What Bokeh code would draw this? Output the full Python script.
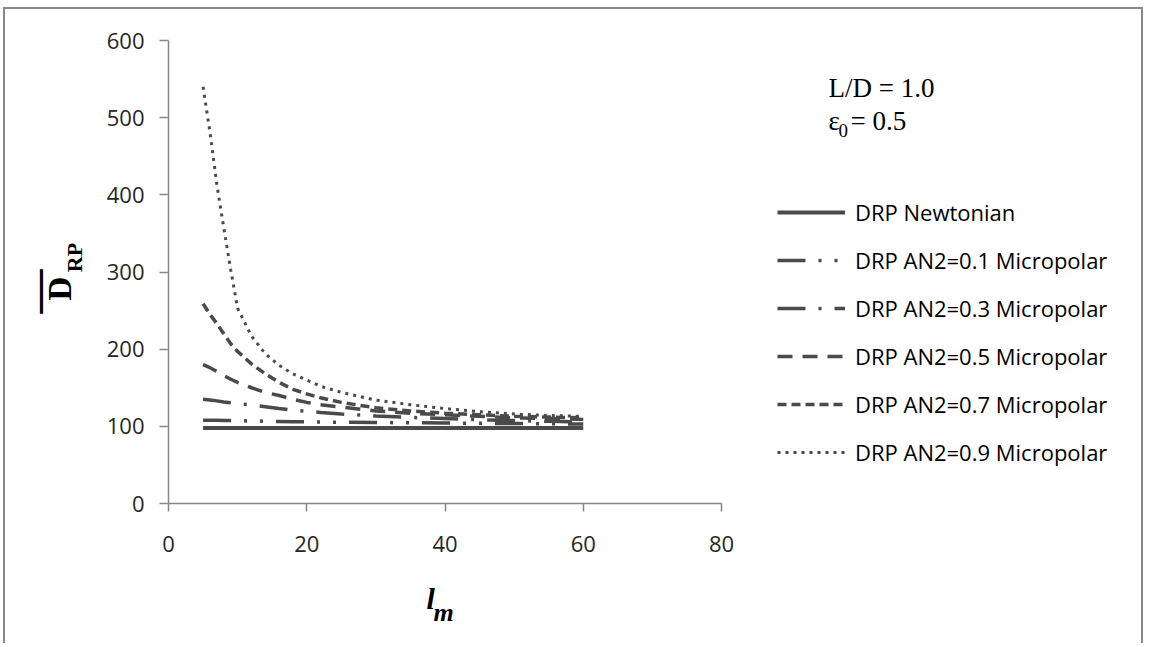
import math
from bokeh.plotting import figure
from bokeh.models import Range1d, Label, Legend, LegendItem, FixedTicker, LinearAxis
from bokeh.embed import file_html
from bokeh.resources import INLINE

# ---- data ----
lm = [5, 6, 7, 8, 9, 10, 12, 14, 16, 18, 20, 22, 25, 30, 35, 40, 45, 50, 55, 60]
drp_newtonian = [98] * 20
drp_an2_01 = [108, 108, 107.8, 107.6, 107.4, 107.2, 107, 106.6, 106.3, 106, 105.8, 105.6,
              105.3, 105, 104.6, 104.3, 104, 103.6, 103.3, 103]
drp_an2_03 = [135, 134, 133, 131.5, 130.5, 129.5, 127.5, 125.5, 123, 121, 119.5, 118,
              116, 113.5, 111.5, 110, 108.5, 107.5, 106.5, 105.5]
drp_an2_05 = [180, 176, 171, 166, 161, 157, 150, 144, 140, 135, 131, 128, 125, 120, 117,
              115, 113, 111, 110, 109]
drp_an2_07 = [259, 245, 233, 220, 207, 197, 181, 168, 157, 148, 142, 137, 131, 124, 120,
              117, 115, 113, 112, 111]
drp_an2_09 = [540, 481, 413, 357, 303, 253, 217, 194, 179, 168, 160, 152, 144, 134, 128,
              123, 119, 116, 114, 113]

series_labels = ["DRP Newtonian", "DRP AN2=0.1 Micropolar", "DRP AN2=0.3 Micropolar",
                 "DRP AN2=0.5 Micropolar", "DRP AN2=0.7 Micropolar", "DRP AN2=0.9 Micropolar"]
series_values = [drp_newtonian, drp_an2_01, drp_an2_03, drp_an2_05, drp_an2_07, drp_an2_09]
series_dash = ["solid", "28 13 3 13 3 13", "28 13 3 13", "15 10", "9 5", "3 5"]
series_width = [4, 3.5, 3.5, 3.5, 3.5, 3]

x_ticks = [0, 20, 40, 60, 80]
y_ticks = [0, 100, 200, 300, 400, 500, 600]
x_bounds = (0, 80)
y_bounds = (0, 600)

LINE_COLOR = "#4a4a4a"
AXIS_COLOR = "#868686"

# page layout: canvas occupies page x 5..1145, y 9..645 ; x=0 at page 168, x=80 at 721 ;
# y=0 at page 503, y=600 at page 40
CANVAS_LEFT, CANVAS_TOP, CANVAS_W, CANVAS_H = 5, 9, 1140, 636
PX_PER_X = (721 - 168) / 80.0
PX_PER_Y = (503 - 40) / 600.0


def dx(px):
    return (px - 168) / PX_PER_X


def dy(py):
    return (503 - py) / PX_PER_Y


p = figure(width=CANVAS_W, height=CANVAS_H, output_backend="svg", toolbar_location=None,
           x_range=Range1d(dx(CANVAS_LEFT), dx(CANVAS_LEFT + CANVAS_W)),
           y_range=Range1d(dy(CANVAS_TOP + CANVAS_H), dy(CANVAS_TOP)),
           x_axis_location=None, y_axis_location=None,
           min_border=0)
p.styles = {"margin-left": "3px", "margin-top": "7px",
            "border-left": "2px solid #888888", "border-top": "2px solid #888888",
            "border-right": "2px solid #888888"}
p.outline_line_color = None
p.grid.visible = False
p.background_fill_color = "white"
p.border_fill_color = "white"

xaxis = LinearAxis(fixed_location=0, bounds=x_bounds, ticker=FixedTicker(ticks=x_ticks))
yaxis = LinearAxis(fixed_location=0, bounds=y_bounds, ticker=FixedTicker(ticks=y_ticks))
p.add_layout(xaxis, "below")
p.add_layout(yaxis, "left")
for ax, out, standoff in ((xaxis, 8, 24), (yaxis, 9, 15)):
    ax.axis_line_color = AXIS_COLOR
    ax.axis_line_width = 1.5
    ax.major_tick_line_color = AXIS_COLOR
    ax.major_tick_line_width = 1.5
    ax.major_tick_out = out
    ax.major_tick_in = 0
    ax.minor_tick_line_color = None
    ax.major_label_text_font = "Open Sans"
    ax.major_label_text_font_size = "22px"
    ax.major_label_text_color = "#262626"
    ax.major_label_standoff = standoff

renderers = []
for vals, dash, w in zip(series_values, series_dash, series_width):
    r = p.line(lm, vals, line_color=LINE_COLOR, line_width=w, line_dash=dash)
    renderers.append(r)

legend = Legend(items=[LegendItem(label=l, renderers=[r]) for l, r in zip(series_labels, renderers)],
                location=(777 - CANVAS_LEFT, CANVAS_TOP + CANVAS_H - 467),
                orientation="vertical",
                glyph_width=68, glyph_height=30, label_height=30, spacing=18,
                padding=0, margin=0, label_standoff=10,
                border_line_color=None, background_fill_alpha=0,
                label_text_font="Open Sans", label_text_font_size="22px",
                label_text_color="black", label_text_baseline="middle")
p.add_layout(legend)

serif = "Liberation Serif"
# y-axis title: overlined D with subscript RP, rotated
p.add_layout(Label(x=dx(59), y=dy(288), text="D", angle=math.pi / 2, text_font=serif,
                   text_font_style="bold", text_font_size="33px", text_align="center",
                   text_baseline="middle", text_color="black"))
p.add_layout(Label(x=dx(74), y=dy(257), text="RP", angle=math.pi / 2, text_font=serif,
                   text_font_style="bold", text_font_size="22px", text_align="center",
                   text_baseline="middle", text_color="black"))
p.add_layout(Label(x=dx(37), y=dy(291), text="\u2014", angle=math.pi / 2, text_font=serif,
                   text_font_style="bold", text_font_size="44px", text_align="center",
                   text_baseline="middle", text_color="black"))
# x-axis title: italic l with subscript m
p.add_layout(Label(x=dx(426), y=dy(598), text="l", text_font=serif,
                   text_font_style="bold italic", text_font_size="30px",
                   text_align="left", text_baseline="alphabetic", text_color="black"))
p.add_layout(Label(x=dx(433), y=dy(612), text="m", text_font=serif,
                   text_font_style="bold italic", text_font_size="26px",
                   text_align="left", text_baseline="alphabetic", text_color="black"))
# annotation
p.add_layout(Label(x=dx(828), y=dy(87), text="L/D = 1.0", text_font=serif,
                   text_font_size="27px", text_align="left", text_baseline="alphabetic",
                   text_color="black"))
p.add_layout(Label(x=dx(828), y=dy(120), text="\u03b5", text_font=serif,
                   text_font_size="27px", text_align="left", text_baseline="alphabetic",
                   text_color="black"))
p.add_layout(Label(x=dx(838), y=dy(130), text="0", text_font=serif,
                   text_font_size="19px", text_align="left", text_baseline="alphabetic",
                   text_color="black"))
p.add_layout(Label(x=dx(850), y=dy(120), text="= 0.5", text_font=serif,
                   text_font_size="27px", text_align="left", text_baseline="alphabetic",
                   text_color="black"))

open("out.html", "w").write(file_html(p, INLINE))
